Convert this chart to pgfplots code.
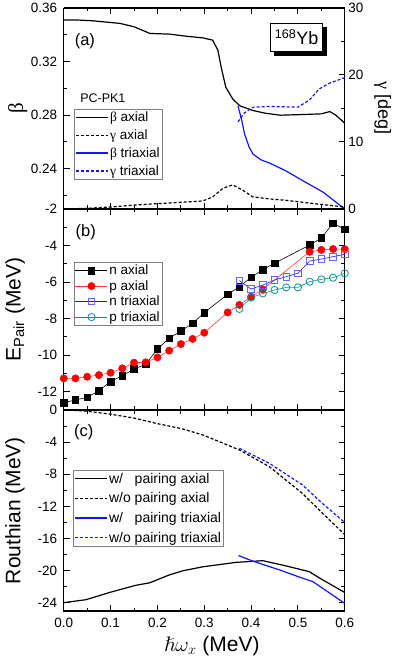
\documentclass[border=0pt]{standalone}
\usepackage{fontspec}
\setmainfont{Liberation Sans}
\newfontfamily\grk{Liberation Serif}
\usepackage{amssymb}
\usepackage{pgfplots}
\pgfplotsset{compat=1.18}
\usetikzlibrary{shadows}
\definecolor{tealc}{RGB}{0,150,150}
\definecolor{ltblue}{RGB}{100,100,255}
\definecolor{ltred}{RGB}{255,60,60}
\definecolor{pblue}{RGB}{20,20,255}
\newcommand{\labfont}{\fontsize{21}{24}\selectfont}
\begin{document}
\pgfplotsset{
  legend image code/.code={\draw[mark repeat=2,mark phase=2,#1] plot coordinates {(0pt,0pt) (16pt,0pt) (32pt,0pt)};},
  dsh/.style={dash pattern=on 3pt off 2pt},
  myax/.style={
    scale only axis, width=281pt, height=201pt,
    xmin=0, xmax=0.6,
    axis line style={line width=1.4pt},
    tick style={line width=1pt, black},
    major tick length=6pt, minor tick length=3.5pt,
    tick align=inside,
    xtick={0,0.1,0.2,0.3,0.4,0.5,0.6},
    minor xtick={0.05,0.15,0.25,0.35,0.45,0.55},
    xticklabels={},
    /pgf/number format/assume math mode=true,
    tick label style={font=\fontsize{13.5}{16}\selectfont},
    xticklabel style={yshift=-4pt},
    legend style={font=\fontsize{13.5}{16}\selectfont, draw=gray, line width=0.8pt, fill=white, anchor=north west, inner sep=1pt, row sep=1pt, nodes={inner sep=1.5pt}},
    legend cell align=left,
  },
}
\begin{tikzpicture}
\useasboundingbox (-61pt,-52pt) rectangle (334pt,611pt);

% ---------------- panel (a) ----------------
\begin{axis}[myax, at={(0pt,402pt)}, anchor=south west,
  ymin=0.21, ymax=0.36, axis y line*=left,
  ytick={0.24,0.28,0.32,0.36}, yticklabels={0.24,0.28,0.32,0.36},
  minor ytick={0.22,0.26,0.30,0.34},
  yticklabel style={xshift=-3pt},
  ylabel={{\grk β}},
  every axis y label/.style={at={(axis description cs:-0.164,0.5)}, rotate=90, anchor=center, font=\labfont},
  legend style={at={(axis description cs:0.0356,0.4975)}, row sep=3.5pt}]
\addlegendimage{draw=black, line width=1.2pt}
\addlegendentry{{\grk β} axial}
\addlegendimage{draw=black, line width=1.2pt, dsh}
\addlegendentry{{\grk γ} axial}
\addlegendimage{draw=pblue, line width=1.4pt}
\addlegendentry{{\grk β} triaxial}
\addlegendimage{draw=pblue, line width=1.4pt, dsh}
\addlegendentry{{\grk γ} triaxial}
\addplot[forget plot, draw=black, line width=1.2pt] coordinates {
(0,0.351) (0.03,0.351) (0.06,0.3505) (0.09,0.3495) (0.12,0.3485) (0.15,0.346)
(0.184,0.341) (0.226,0.3405) (0.26,0.339) (0.297,0.3377) (0.318,0.336)
(0.329,0.3285) (0.336,0.316) (0.346,0.3008) (0.361,0.292) (0.376,0.287)
(0.404,0.2835) (0.43,0.2815) (0.462,0.280) (0.511,0.2805) (0.55,0.281)
(0.568,0.2827) (0.581,0.280) (0.6,0.274)};
\addplot[forget plot, draw=pblue, line width=1.2pt] coordinates {
(0.372,0.287) (0.38,0.276) (0.386,0.266) (0.396,0.256) (0.404,0.251)
(0.421,0.2467) (0.44,0.2442) (0.474,0.2385) (0.511,0.231) (0.554,0.2225) (0.6,0.2100)};
\node[font=\fontsize{16.5}{18}\selectfont] at (axis description cs:0.075,0.836) {(a)};
\node[font=\fontsize{12.5}{14}\selectfont] at (axis description cs:0.139,0.552) {PC-PK1};
\node[draw=black, line width=0.6pt, fill=white,
  copy shadow={shadow xshift=4pt, shadow yshift=-4pt, fill=black, draw=black},
  minimum width=52pt, minimum height=28pt, inner sep=1pt,
  font=\fontsize{18}{20}\selectfont] at (axis description cs:0.829,0.856) {\textsuperscript{168}Yb};
\end{axis}

\begin{axis}[myax, at={(0pt,402pt)}, anchor=south west,
  ymin=0, ymax=30, axis y line*=right, axis x line=none,
  ytick={0,10,20,30}, minor ytick={5,15,25},
  ylabel={{\grk γ} [deg]},
  every axis y label/.style={at={(axis description cs:1.135,0.5)}, rotate=-90, anchor=center, font=\fontsize{18}{20}\selectfont}]
\addplot[draw=black, line width=1.2pt, dsh] coordinates {
(0,0) (0.05,0.1) (0.1,0.3) (0.154,0.6) (0.2,0.8) (0.25,1.0) (0.297,1.2)
(0.318,1.8) (0.34,3.1) (0.361,3.6) (0.382,2.8) (0.404,1.8) (0.44,1.5)
(0.474,1.3) (0.51,1.0) (0.547,0.7) (0.6,0.3)};
\addplot[draw=pblue, line width=1.2pt, dsh] coordinates {
(0.372,13) (0.385,14.3) (0.404,15.2) (0.44,15.3) (0.5,15.2) (0.525,16.3)
(0.545,17.9) (0.568,18.8) (0.6,19.6)};
\end{axis}

% ---------------- panel (b) ----------------
\begin{axis}[myax, at={(0pt,201pt)}, anchor=south west,
  ymin=-13, ymax=-2,
  ytick={-12,-10,-8,-6,-4,-2}, minor ytick={-13,-11,-9,-7,-5,-3},
  yticklabel style={xshift=-3pt},
  ylabel={E\textsubscript{Pair} (MeV)},
  every axis y label/.style={at={(axis description cs:-0.173,0.5)}, rotate=90, anchor=center, font=\labfont},
  legend style={at={(axis description cs:0.0356,0.736)}, row sep=1.2pt}]
\addplot[black, line width=0.6pt, mark=square*, mark size=3.3pt] coordinates {
(0,-12.6) (0.025,-12.45) (0.05,-12.31) (0.075,-11.94) (0.1,-11.45) (0.125,-11.12)
(0.15,-10.76) (0.175,-10.5) (0.2,-9.66) (0.225,-9.08) (0.25,-8.68) (0.275,-8.26)
(0.3,-7.67) (0.35,-6.67) (0.375,-6.25) (0.4,-5.74) (0.425,-5.32) (0.45,-4.97)
(0.525,-3.97) (0.55,-3.59) (0.575,-2.78) (0.6,-3.11)};
\addlegendentry{n axial}
\addplot[ltred, line width=0.6pt, mark=*, mark size=3.6pt, mark options={red}] coordinates {
(0,-11.27) (0.025,-11.27) (0.05,-11.18) (0.075,-11.09) (0.1,-10.96) (0.125,-10.72)
(0.15,-10.41) (0.175,-10.39) (0.2,-10.12) (0.225,-9.75) (0.25,-9.39) (0.275,-9.11)
(0.3,-8.77) (0.35,-7.66) (0.375,-7.25) (0.4,-6.8) (0.425,-6.4)
(0.525,-4.34) (0.55,-4.24) (0.575,-4.19) (0.6,-4.2)};
\addlegendentry{p axial}
\addplot[pblue, line width=0.6pt, mark=square, mark size=3.3pt, mark options={ltblue, fill=white, line width=0.8pt}] coordinates {
(0.375,-5.92) (0.4,-6.38) (0.425,-6.16) (0.45,-5.89) (0.475,-5.7) (0.5,-5.52)
(0.525,-4.85) (0.55,-4.74) (0.575,-4.61) (0.6,-4.48)};
\addlegendentry{n triaxial}
\addplot[tealc, line width=0.6pt, mark=o, mark size=3.6pt, mark options={fill=white, line width=0.8pt}] coordinates {
(0.375,-7.47) (0.4,-6.85) (0.425,-6.62) (0.45,-6.43) (0.475,-6.29) (0.5,-6.29)
(0.525,-5.98) (0.55,-5.85) (0.575,-5.76) (0.6,-5.52)};
\addlegendentry{p triaxial}
\node[font=\fontsize{16.5}{18}\selectfont] at (axis description cs:0.078,0.886) {(b)};
\end{axis}

% ---------------- panel (c) ----------------
\begin{axis}[myax, at={(0pt,0pt)}, anchor=south west,
  ymin=-25, ymax=0,
  ytick={-24,-20,-16,-12,-8,-4,0}, minor ytick={-22,-18,-14,-10,-6,-2},
  yticklabel style={xshift=-3pt},
  xticklabels={0.0,0.1,0.2,0.3,0.4,0.5,0.6},
  ylabel={Routhian (MeV)},
  every axis y label/.style={at={(axis description cs:-0.174,0.5)}, rotate=90, anchor=center, font=\labfont},
  xlabel={$\hslash\omega_x$ (MeV)},
  every axis x label/.style={at={(axis description cs:0.527,-0.199)}, anchor=base, font=\labfont},
  legend style={at={(axis description cs:0.032,0.701)}, row sep=5pt, font=\fontsize{14}{16}\selectfont}]
\addlegendimage{draw=black, line width=1.3pt}
\addlegendentry{\rlap{w/}\phantom{w/o} pairing axial}
\addlegendimage{draw=black, line width=1.3pt, dsh}
\addlegendentry{w/o pairing axial}
\addlegendimage{draw=pblue, line width=1.4pt}
\addlegendentry{\rlap{w/}\phantom{w/o} pairing triaxial}
\addlegendimage{draw=pblue, line width=1.4pt, dsh}
\addlegendentry{w/o pairing triaxial}
\addplot[forget plot, draw=black, line width=1.2pt] coordinates {
(0,-23.96) (0.047,-23.6) (0.0975,-22.7) (0.154,-21.8) (0.183,-21.5) (0.226,-20.5)
(0.254,-20.0) (0.297,-19.5) (0.368,-18.95) (0.425,-18.74) (0.475,-19.4)
(0.524,-20.1) (0.546,-20.9) (0.6,-22.7)};
\addplot[forget plot, draw=black, line width=1.2pt, dsh] coordinates {
(0,0) (0.05,-0.15) (0.0975,-0.5) (0.15,-1.0) (0.197,-1.66) (0.25,-2.3) (0.297,-3.1)
(0.375,-4.97) (0.439,-7.05) (0.51,-10.4) (0.55,-12.7) (0.6,-15.5)};
\addplot[forget plot, draw=pblue, line width=1.2pt] coordinates {
(0.373,-18.1) (0.404,-18.8) (0.461,-19.9) (0.504,-20.8) (0.532,-21.35) (0.6,-24.05)};
\addplot[forget plot, draw=pblue, line width=1.2pt, dsh] coordinates {
(0.375,-4.77) (0.439,-6.63) (0.51,-9.33) (0.55,-11.5) (0.6,-14.0)};
\node[font=\fontsize{16.5}{18}\selectfont] at (axis description cs:0.071,0.891) {(c)};
\end{axis}
\end{tikzpicture}
\end{document}
